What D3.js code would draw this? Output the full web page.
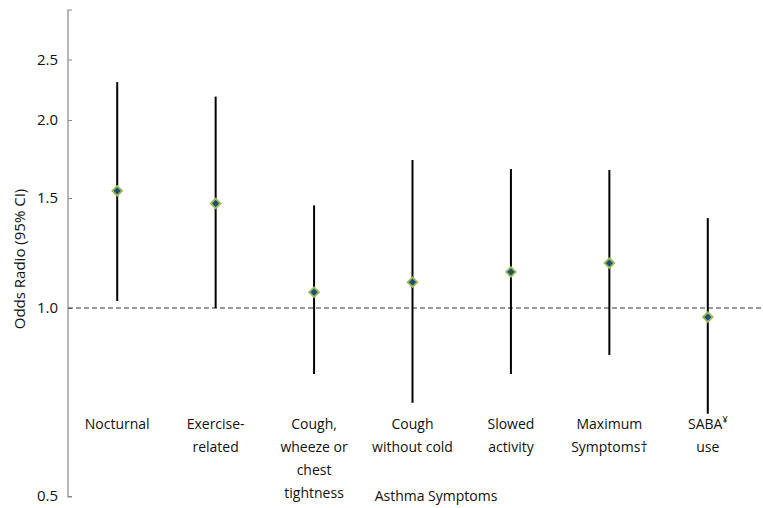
<!DOCTYPE html>
<html>
<head>
<meta charset="utf-8">
<script src="https://cdn.jsdelivr.net/npm/d3@7"></script>
<style>
  body { margin: 0; background: #fff; }
  text { font-family: "Open Sans", "Liberation Sans", sans-serif; fill: #111; }
</style>
</head>
<body>
<svg id="chart" width="763" height="508"></svg>
<script>
const categories = [
  ["Nocturnal"],
  ["Exercise-", "related"],
  ["Cough,", "wheeze or", "chest", "tightness"],
  ["Cough", "without cold"],
  ["Slowed", "activity"],
  ["Maximum", "Symptoms†"],
  ["SABA¥", "use"]
];
const oddsRatio = [1.54, 1.47, 1.06, 1.10, 1.142, 1.18, 0.967];
const ciLower   = [1.026, 1.00, 0.784, 0.705, 0.784, 0.841, 0.677];
const ciUpper   = [2.30, 2.18, 1.46, 1.726, 1.669, 1.663, 1.393];
const yTicks = [0.5, 1.0, 1.5, 2.0, 2.5];
const yTitle = "Odds Radio (95% CI)";
const xTitle = "Asthma Symptoms";

(function () {
const svg = d3.select("#chart");
const mLeft = 68, mRight = 757, mTop = 10, mBottom = 496;

const x = d3.scaleBand().domain(d3.range(categories.length)).range([mLeft, mRight]);
const y = d3.scaleLog().domain([0.5, 3]).range([mBottom, mTop]);

// y axis
const yAxis = d3.axisRight(y).tickValues(yTicks).tickFormat(d3.format(".1f")).tickSize(4);
const ag = svg.append("g").attr("transform", `translate(${mLeft},0)`).call(yAxis);
ag.select(".domain").remove();
ag.selectAll(".tick line").attr("stroke", "#888");
ag.selectAll(".tick text").attr("x", -10).attr("text-anchor", "end")
  .style("font-size", "15px").attr("fill", "#222");
svg.append("path")
  .attr("d", `M${mLeft + 4},${mTop}H${mLeft}V${mBottom + 1}H${mLeft + 4}`)
  .attr("fill", "none").attr("stroke", "#888").attr("stroke-width", 1.2);

// reference line at 1.0
svg.append("line")
  .attr("x1", mLeft).attr("x2", 763)
  .attr("y1", y(1)).attr("y2", y(1))
  .attr("stroke", "#333").attr("stroke-width", 1.2).attr("stroke-dasharray", "5,3");

// CI lines
const cx = i => x(i) + x.bandwidth() / 2;
svg.selectAll(".ci").data(oddsRatio).enter().append("line")
  .attr("x1", (d, i) => cx(i)).attr("x2", (d, i) => cx(i))
  .attr("y1", (d, i) => y(ciLower[i])).attr("y2", (d, i) => y(ciUpper[i]))
  .attr("stroke", "#000").attr("stroke-width", 2);

// diamond markers
const diamond = d3.symbol().type(d3.symbolDiamond2).size(60);
svg.selectAll(".pt").data(oddsRatio).enter().append("path")
  .attr("d", diamond)
  .attr("transform", (d, i) => `translate(${cx(i)},${y(d)})`)
  .attr("fill", "#1f4e79").attr("stroke", "#9bbb59").attr("stroke-width", 1.8);

// category labels
categories.forEach((lines, i) => {
  const t = svg.append("text").attr("text-anchor", "middle").style("font-size", "14px");
  lines.forEach((ln, j) => {
    const m = ln.match(/^(.*?)([¥])$/);
    const ts = t.append("tspan").attr("x", cx(i)).attr("y", 429 + j * 23);
    if (m) {
      ts.text(m[1]);
      t.append("tspan").attr("dy", -6).style("font-size", "9px").text(m[2]);
    } else {
      ts.text(ln);
    }
  });
});

// axis titles
svg.append("text").attr("x", 436).attr("y", 501).attr("text-anchor", "middle")
  .style("font-size", "14px").text(xTitle);
svg.append("text").attr("transform", "translate(25,259) rotate(-90)")
  .attr("text-anchor", "middle").style("font-size", "15px").text(yTitle);
})();
</script>
</body>
</html>
